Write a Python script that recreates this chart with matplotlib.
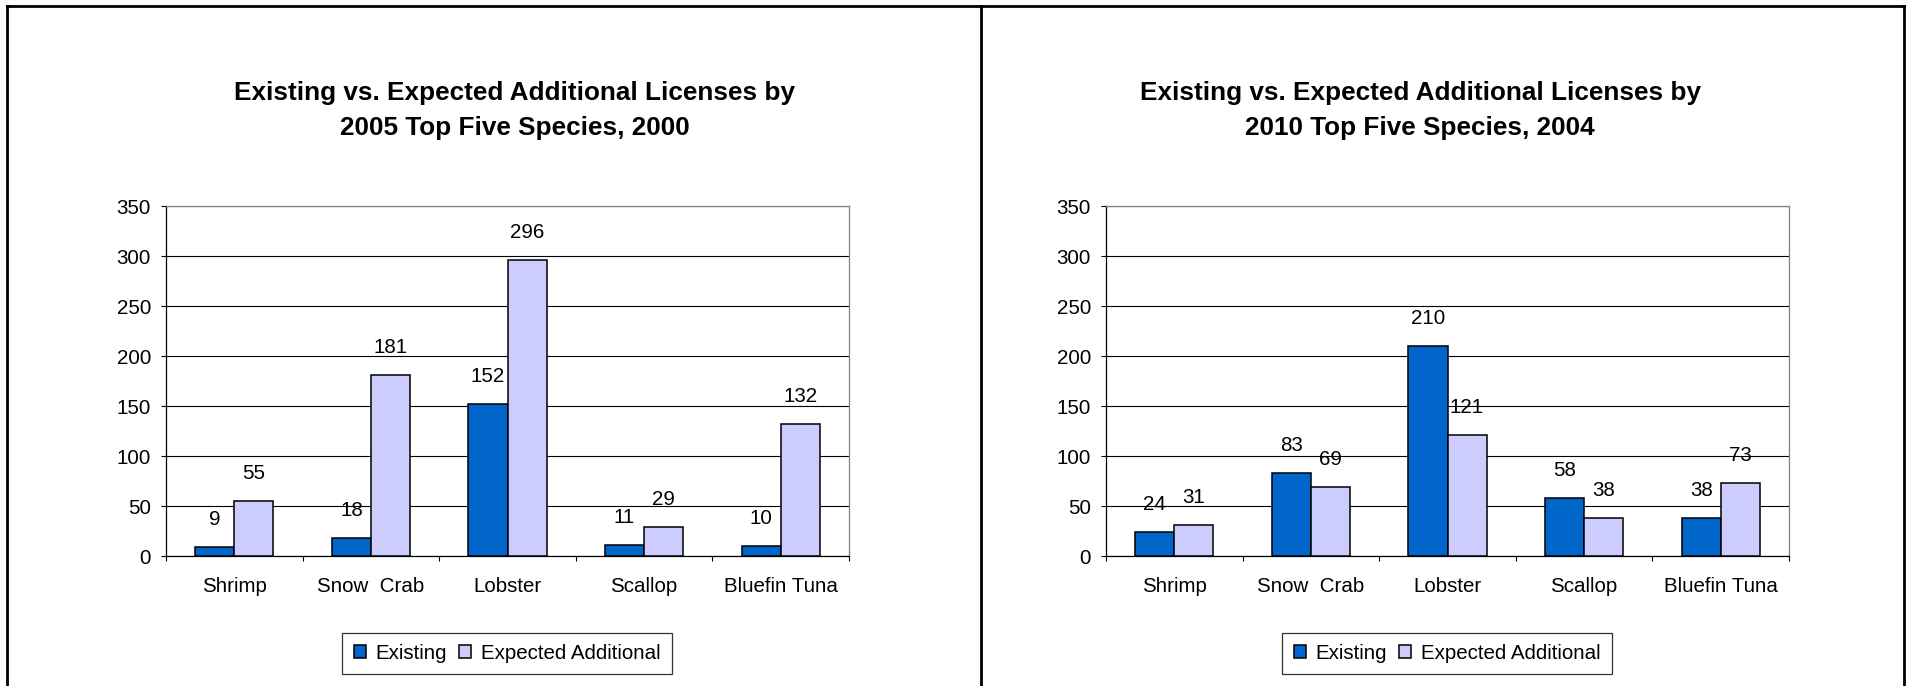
import matplotlib
matplotlib.use('Agg')
import matplotlib.pyplot as plt
from matplotlib.lines import Line2D
import numpy as np

species = ['Shrimp', 'Snow  Crab', 'Lobster', 'Scallop', 'Bluefin Tuna']
series_names = ['Existing', 'Expected Additional']

existing_2000 = [9, 18, 152, 11, 10]
expected_2000 = [55, 181, 296, 29, 132]
existing_2004 = [24, 83, 210, 58, 38]
expected_2004 = [31, 69, 121, 38, 73]

title_2000 = ['Existing vs. Expected Additional Licenses by',
              '2005 Top Five Species, 2000']
title_2004 = ['Existing vs. Expected Additional Licenses by',
              '2010 Top Five Species, 2004']

y_ticks = [0, 50, 100, 150, 200, 250, 300, 350]

W, H = 1912, 686
dark_blue = '#0066CC'
lilac = '#CCCCFF'
fs = 14.8

plt.rcParams['font.family'] = ['Liberation Sans', 'DejaVu Sans']


def fx(px):
    return px / W


def fy(py):
    return 1 - py / H


def draw_panel(fig, left_px, title_x_px, title, existing, expected):
    ax = fig.add_axes([fx(left_px), fy(556), fx(683), 350 / H])
    x = np.arange(len(species))
    w = 1 / 3.5
    b1 = ax.bar(x - w / 2, existing, w, color=dark_blue, edgecolor='black',
                linewidth=1.1, zorder=3, label=series_names[0])
    b2 = ax.bar(x + w / 2, expected, w, color=lilac, edgecolor='black',
                linewidth=1.1, zorder=3, label=series_names[1])
    for bars, vals in ((b1, existing), (b2, expected)):
        for rect, v in zip(bars, vals):
            ax.annotate(str(v), (rect.get_x() + rect.get_width() / 2, v),
                        xytext=(0, 19.5), textcoords='offset points',
                        ha='center', va='center', fontsize=fs)

    ax.set_xlim(-0.5, len(species) - 0.5)
    ax.set_ylim(0, 350)
    ax.set_yticks(y_ticks)
    ax.yaxis.grid(True, color='black', linewidth=0.8, zorder=0)
    ax.set_axisbelow(True)

    # labels at the category centres, tick marks on the boundaries
    ax.set_xticks(x)
    ax.set_xticklabels(species)
    ax.set_xticks(np.arange(-0.5, len(species)), minor=True)
    ax.tick_params(axis='x', which='major', length=0, pad=15, labelsize=fs)
    ax.tick_params(axis='x', which='minor', length=3.8, width=0.8, direction='out')
    ax.tick_params(axis='y', length=3.8, width=0.8, pad=7, labelsize=fs)

    for s in ('left', 'bottom'):
        ax.spines[s].set_color('black')
        ax.spines[s].set_linewidth(0.9)
    for s in ('top', 'right'):
        ax.spines[s].set_color('#808080')
        ax.spines[s].set_linewidth(0.9)

    for line, ty in zip(title, (93, 128)):
        fig.text(fx(title_x_px), fy(ty), line, ha='center', va='center',
                 fontsize=18.8, fontweight='bold')

    leg = fig.legend(handles=[b1, b2], labels=series_names, ncol=2,
                     loc='center', bbox_to_anchor=(fx(left_px + 341), fy(653.5)),
                     fontsize=fs, frameon=True, fancybox=False,
                     handlelength=0.6, handleheight=0.6, handletextpad=0.45,
                     columnspacing=0.6, borderpad=0.55, borderaxespad=0)
    leg.get_frame().set_edgecolor('black')
    leg.get_frame().set_linewidth(0.9)
    return ax


def main():
    fig = plt.figure(figsize=(W / 100, H / 100), dpi=100)

    draw_panel(fig, 166, 515, title_2000, existing_2000, expected_2000)
    draw_panel(fig, 1106, 1420, title_2004, existing_2004, expected_2004)

    # outer frame and the divider between the two charts
    frame = dict(color='black', linewidth=2.0, transform=fig.transFigure)
    fig.add_artist(Line2D([fx(6.7), fx(1904)], [fy(5.7), fy(5.7)], **frame))
    fig.add_artist(Line2D([fx(6.7), fx(6.7)], [fy(5.7), 0], **frame))
    fig.add_artist(Line2D([fx(981), fx(981)], [fy(5.7), 0], **frame))
    fig.add_artist(Line2D([fx(1904), fx(1904)], [fy(5.7), 0], **frame))

    fig.savefig('out.png', dpi=100)


if __name__ == '__main__':
    main()
